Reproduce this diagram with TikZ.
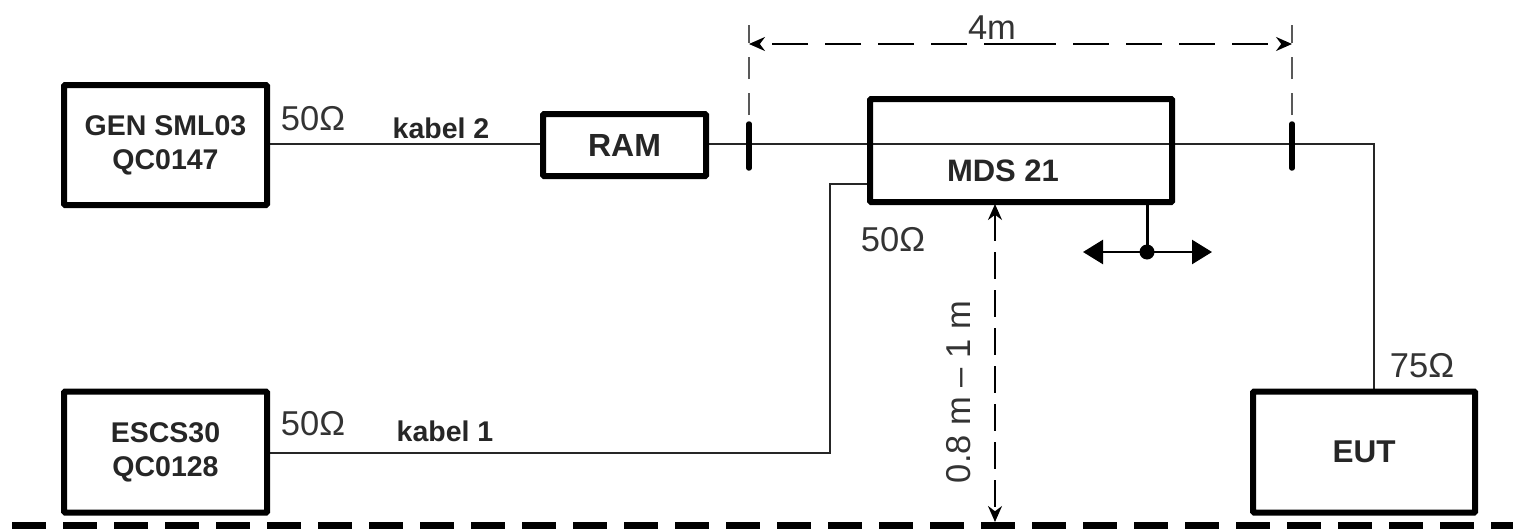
\documentclass[tikz,border=0pt]{standalone}
\usepackage{fontspec}
\setmainfont{Liberation Sans}
\usetikzlibrary{arrows.meta}
\tikzset{
  box/.style={draw=black,line width=6pt,rounded corners=1pt,fill=white,align=center,font=\fontsize{28.5}{34}\selectfont\bfseries,inner sep=0pt,text=black!85},
  wire/.style={draw=black!85,line width=2pt},
  lab/.style={font=\fontsize{34.5}{36}\selectfont,text=black!80,inner sep=0pt},
  cab/.style={font=\fontsize{28.5}{30}\selectfont\bfseries,text=black!85,inner sep=0pt},
  dimline/.style={draw=black,line width=2pt,dash pattern=on 36pt off 17pt},
  ext/.style={draw=black!65,line width=2.2pt,dash pattern=on 22pt off 14pt},
  tick/.style={draw=black,line width=5.5pt,line cap=round},
  ground/.style={draw=black,line width=7pt,dash pattern=on 34pt off 17pt},
  tip/.style={-{Stealth[length=16pt,width=14pt]}},
  bigtip/.style={{Triangle[length=20pt,width=24pt]}-{Triangle[length=20pt,width=24pt]}}
}
\begin{document}
\begin{tikzpicture}[x=1pt,y=-1pt]
\useasboundingbox (0,0) rectangle (1513,530);
% coordinates
\coordinate (gl) at (12,525);
\coordinate (gr) at (1513,525);
\coordinate (corner1) at (1374,144);
\coordinate (tickAt) at (749,124);
\coordinate (tickAb) at (749,168);
\coordinate (tickBt) at (1292,124);
\coordinate (tickBb) at (1292,168);
\coordinate (extAt) at (749,25);
\coordinate (extAb) at (749,115);
\coordinate (extBt) at (1292,25);
\coordinate (extBb) at (1292,115);
\coordinate (dimA) at (749,44);
\coordinate (dimB) at (1292,44);
\coordinate (cornerK1) at (830,453);
\coordinate (cornerK2) at (830,184);
\coordinate (vT) at (995,204);
\coordinate (vB) at (995,522);
\coordinate (sA) at (1147,202);
\coordinate (dot) at (1147,252);
\coordinate (sL) at (1083,252);
\coordinate (sR) at (1212,252);
% wires first
\draw[wire] (267,144) -- (543,144);
\draw[wire] (706,144) -- (corner1) -- (1374,393);
\draw[wire] (267,453) -- (cornerK1) -- (cornerK2) -- (870,184);
% boxes
\node[box,minimum width=203pt,minimum height=120pt] (gen) at (165.5,145) {GEN SML03\\QC0147};
\node[box,minimum width=163pt,minimum height=62pt,font=\fontsize{32}{34}\selectfont\bfseries] (ram) at (624.5,145) {RAM};
\node[box,minimum width=302pt,minimum height=103pt,fill=none] (mds) at (1021,150.5) {};
\node[cab,font=\fontsize{31}{33}\selectfont\bfseries] (mdst) at (1003,171) {MDS 21};
\node[box,minimum width=203pt,minimum height=121pt] (escs) at (165.5,452) {ESCS30\\QC0128};
\node[box,minimum width=222pt,minimum height=121pt,font=\fontsize{31.5}{34}\selectfont\bfseries] (eut) at (1364,452) {EUT};
% dimension 4m
\draw[ext] (extAb) -- (extAt);
\draw[ext] (extBb) -- (extBt);
\draw[dimline,tip] (1020,44) -- (dimA);
\draw[dimline,tip] (1020,44) -- (dimB);
\draw[tick] (tickAt) -- (tickAb);
\draw[tick] (tickBt) -- (tickBb);
% vertical dimension
\draw[dimline,{Stealth[length=16pt,width=14pt]}-{Stealth[length=16pt,width=14pt]},dash pattern=on 27pt off 11pt] (vT) -- (vB);
% ground
\draw[ground] (gl) -- (gr);
% slider
\draw[draw=black,line width=3pt] (sA) -- (dot);
\draw[draw=black,line width=2.5pt,bigtip] (sL) -- (sR);
\fill[black] (dot) circle (7.5pt);
% labels
\node[lab] (l1) at (313,119) {50Ω};
\node[lab] (l2) at (313,424) {50Ω};
\node[lab] (l3) at (893,240) {50Ω};
\node[lab] (l4) at (1422,366) {75Ω};
\node[lab] (l5) at (992,28) {4m};
\node[lab,rotate=90] (l6) at (959,392) {0.8 m – 1 m};
\node[cab] (k2) at (441,128) {kabel 2};
\node[cab] (k1) at (445,431) {kabel 1};
\end{tikzpicture}
\end{document}
